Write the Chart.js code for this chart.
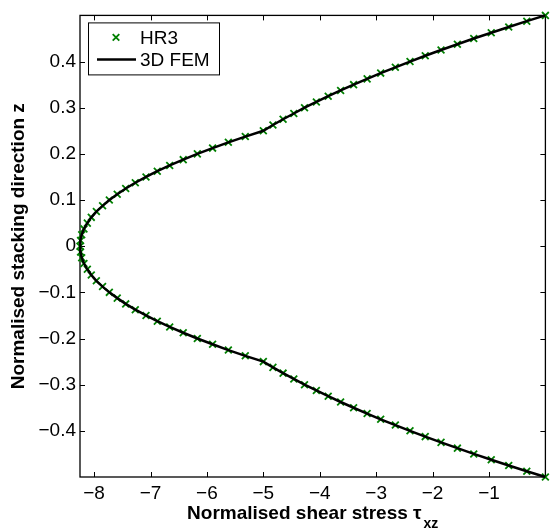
<!DOCTYPE html>
<html>
<head>
<meta charset="utf-8">
<script src="https://cdn.jsdelivr.net/npm/chart.js@4.4.0/dist/chart.umd.min.js"></script>
<style>
  html, body { margin: 0; padding: 0; background: #fff; }
  #chart { display: block; }
</style>
</head>
<body>
<canvas id="chart" width="552" height="531"></canvas>
<script>
// Normalised stacking direction z (sampling points of the HR3 model)
const zValues = [
  -0.5, -0.4875, -0.475, -0.4625, -0.45, -0.4375, -0.425, -0.4125, -0.4, -0.3875,
  -0.375, -0.3625, -0.35, -0.3375, -0.325, -0.3125, -0.3, -0.2875, -0.275, -0.2625,
  -0.25, -0.2375, -0.225, -0.2125, -0.2, -0.1875, -0.175, -0.1625, -0.15, -0.1375,
  -0.125, -0.1125, -0.1, -0.0875, -0.075, -0.0625, -0.05, -0.0375, -0.025, -0.0125,
  0,
  0.0125, 0.025, 0.0375, 0.05, 0.0625, 0.075, 0.0875, 0.1, 0.1125, 0.125,
  0.1375, 0.15, 0.1625, 0.175, 0.1875, 0.2, 0.2125, 0.225, 0.2375, 0.25,
  0.2625, 0.275, 0.2875, 0.3, 0.3125, 0.325, 0.3375, 0.35, 0.3625, 0.375,
  0.3875, 0.4, 0.4125, 0.425, 0.4375, 0.45, 0.4625, 0.475, 0.4875, 0.5
];

// Normalised shear stress tau_xz, HR3
const hr3Tau = [
  0, -0.33, -0.65, -0.96, -1.27, -1.56, -1.85, -2.13, -2.40, -2.66,
  -2.92, -3.16, -3.40, -3.63, -3.85, -4.06, -4.27, -4.46, -4.65, -4.83,
  -5.00, -5.32, -5.62, -5.90, -6.17, -6.42, -6.66, -6.88, -7.08, -7.27,
  -7.44, -7.59, -7.73, -7.85, -7.96, -8.05, -8.12, -8.18, -8.22, -8.24,
  -8.25,
  -8.24, -8.22, -8.18, -8.12, -8.05, -7.96, -7.85, -7.73, -7.59, -7.44,
  -7.27, -7.08, -6.88, -6.66, -6.42, -6.17, -5.90, -5.62, -5.32, -5.00,
  -4.83, -4.65, -4.46, -4.27, -4.06, -3.85, -3.63, -3.40, -3.16, -2.92,
  -2.66, -2.40, -2.13, -1.85, -1.56, -1.27, -0.96, -0.65, -0.33, 0
];

// 3D FEM reference curve (lies on top of the HR3 points)
const femZ = zValues;
const femTau = hr3Tau;

const xTicks = [-8, -7, -6, -5, -4, -3, -2, -1];
const yTicks = [-0.4, -0.3, -0.2, -0.1, 0, 0.1, 0.2, 0.3, 0.4];

const FONT = '"Liberation Sans", Arial, Helvetica, sans-serif';
const GREEN = '#008000';

const fmt = v => (v < 0 ? '\u2212' : '') + Math.abs(v);

// Caja del eje con marcas hacia dentro (estilo MATLAB)
const frameTicks = {
  id: 'frameTicks',
  beforeDatasetsDraw(chart) {
    const { ctx, chartArea: a, scales: { x, y } } = chart;
    ctx.save();
    ctx.strokeStyle = '#000';
    ctx.lineWidth = 1;
    ctx.beginPath();
    xTicks.forEach(v => {
      const px = Math.round(x.getPixelForValue(v)) + 0.5;
      ctx.moveTo(px, a.bottom); ctx.lineTo(px, a.bottom - 5);
      ctx.moveTo(px, a.top); ctx.lineTo(px, a.top + 5);
    });
    yTicks.forEach(v => {
      const py = Math.round(y.getPixelForValue(v)) + 0.5;
      ctx.moveTo(a.left, py); ctx.lineTo(a.left + 5, py);
      ctx.moveTo(a.right, py); ctx.lineTo(a.right - 5, py);
    });
    ctx.stroke();
    ctx.lineWidth = 1.3;
    ctx.strokeRect(a.left, a.top, a.right - a.left, a.bottom - a.top);
    ctx.restore();
  }
};

// Leyenda dentro del área y título del eje x con subíndice
const boxLegend = {
  id: 'boxLegend',
  afterDraw(chart) {
    const { ctx, chartArea: a } = chart;
    const ds = chart.data.datasets;
    ctx.save();
    const bx = a.left + 8, by = a.top + 7, bw = 131, bh = 52;
    ctx.fillStyle = '#fff';
    ctx.fillRect(bx, by, bw, bh);
    ctx.strokeStyle = '#000';
    ctx.lineWidth = 1;
    ctx.strokeRect(bx + 0.5, by + 0.5, bw, bh);

    ctx.font = '19px ' + FONT;
    ctx.fillStyle = '#000';
    ctx.textBaseline = 'middle';
    ctx.textAlign = 'left';

    // HR3 marker
    const my = by + 15, mx = bx + 28;
    ctx.strokeStyle = GREEN;
    ctx.lineWidth = 1.8;
    ctx.beginPath();
    ctx.moveTo(mx - 3.3, my - 3.3); ctx.lineTo(mx + 3.3, my + 3.3);
    ctx.moveTo(mx - 3.3, my + 3.3); ctx.lineTo(mx + 3.3, my - 3.3);
    ctx.stroke();
    ctx.fillText(ds[0].label, bx + 52, my + 1);

    // FEM line
    const ly = by + 37;
    ctx.strokeStyle = '#000';
    ctx.lineWidth = 2.5;
    ctx.beginPath();
    ctx.moveTo(bx + 9, ly); ctx.lineTo(bx + 48, ly);
    ctx.stroke();
    ctx.fillText(ds[1].label, bx + 52, ly + 1);

    // x title
    const main = 'Normalised shear stress \u03c4';
    const sub = 'xz';
    ctx.font = 'bold 19px ' + FONT;
    const w1 = ctx.measureText(main).width;
    ctx.font = 'bold 14px ' + FONT;
    const w2 = ctx.measureText(sub).width;
    const x0 = (a.left + a.right) / 2 - (w1 + w2 + 2) / 2;
    ctx.textBaseline = 'alphabetic';
    ctx.font = 'bold 19px ' + FONT;
    ctx.fillText(main, x0, 519);
    ctx.font = 'bold 14px ' + FONT;
    ctx.fillText(sub, x0 + w1 + 2, 528);
    ctx.restore();
  }
};

const ctx = document.getElementById('chart').getContext('2d');
new Chart(ctx, {
  type: 'scatter',
  data: {
    datasets: [
      {
        label: 'HR3',
        data: zValues.map((z, i) => ({ x: hr3Tau[i], y: z })),
        showLine: false,
        pointStyle: 'crossRot',
        pointRadius: 4.8,
        pointBorderWidth: 1.8,
        pointBorderColor: GREEN,
        pointBackgroundColor: GREEN,
        clip: false,
        order: 2
      },
      {
        label: '3D FEM',
        data: femZ.map((z, i) => ({ x: femTau[i], y: z })),
        showLine: true,
        borderColor: '#000',
        borderWidth: 2.5,
        pointRadius: 0,
        tension: 0,
        clip: false,
        order: 1
      }
    ]
  },
  options: {
    responsive: false,
    animation: false,
    events: [],
    layout: { padding: { left: 0, right: 3, top: 10, bottom: 0 } },
    scales: {
      x: {
        type: 'linear',
        min: -8.25,
        max: 0,
        afterBuildTicks: s => { s.ticks = xTicks.map(v => ({ value: v })); },
        afterFit: s => { s.height = 54; },
        grid: { display: false, drawTicks: false },
        border: { display: false },
        ticks: {
          color: '#000',
          font: { family: FONT, size: 19 },
          padding: 5,
          maxRotation: 0,
          callback: v => fmt(v)
        },
        title: { display: false }
      },
      y: {
        type: 'linear',
        min: -0.5,
        max: 0.5,
        afterBuildTicks: s => { s.ticks = yTicks.map(v => ({ value: v })); },
        afterFit: s => { s.width = 80; },
        grid: { display: false, drawTicks: false },
        border: { display: false },
        ticks: {
          color: '#000',
          font: { family: FONT, size: 19 },
          padding: 4,
          callback: v => fmt(v)
        },
        title: {
          display: true,
          text: 'Normalised stacking direction z',
          color: '#000',
          font: { family: FONT, size: 19, weight: 'bold' },
          padding: { top: 7, bottom: 0 }
        }
      }
    },
    plugins: {
      legend: { display: false },
      tooltip: { enabled: false }
    }
  },
  plugins: [frameTicks, boxLegend]
});
</script>
</body>
</html>
